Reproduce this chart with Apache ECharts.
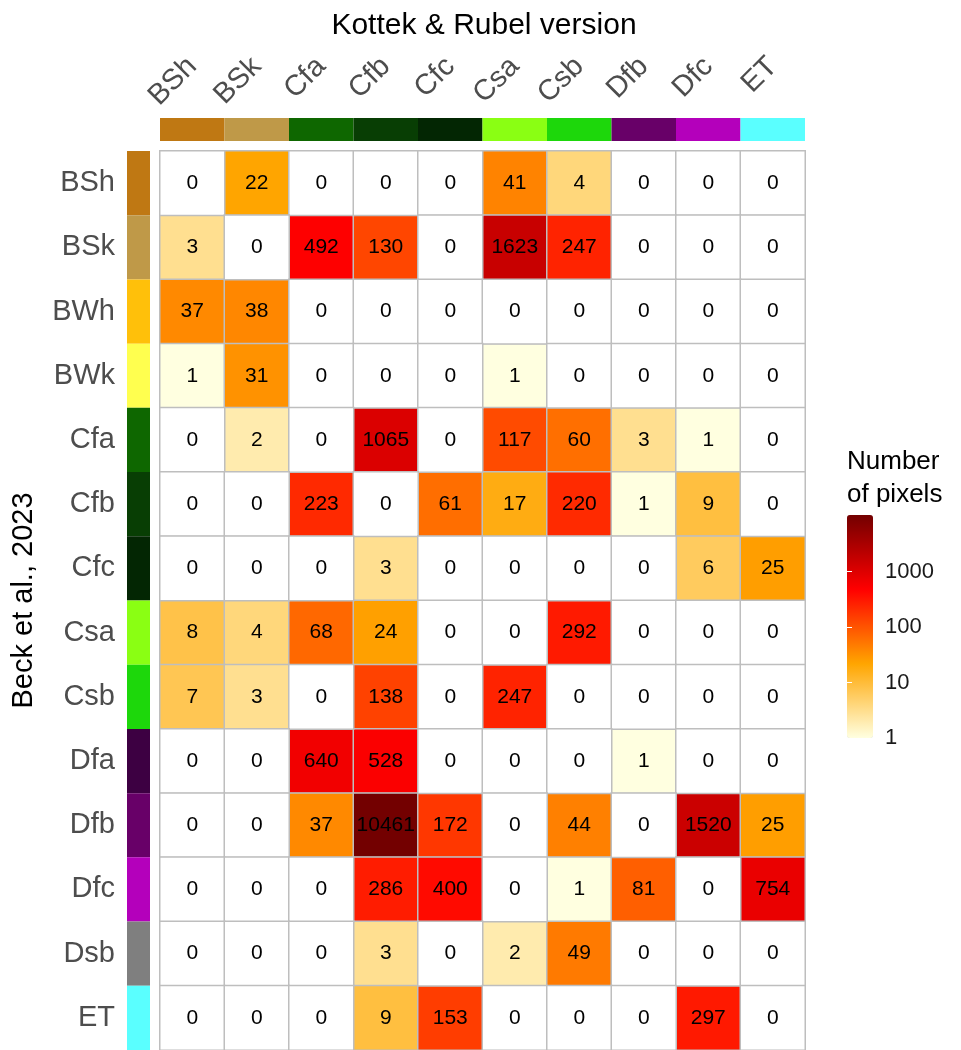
<!DOCTYPE html>
<html>
<head>
<meta charset="utf-8">
<script src="https://cdn.jsdelivr.net/npm/echarts@6/dist/echarts.min.js"></script>
<style>
  html, body { margin: 0; padding: 0; background: #fff; }
  #chart { width: 961px; height: 1050px; }
</style>
</head>
<body>
<div id="chart"></div>
<script>
// Kottek & Rubel classes (columns)
const colNames = ["BSh", "BSk", "Cfa", "Cfb", "Cfc", "Csa", "Csb", "Dfb", "Dfc", "ET"];
const colColors = ["#BF7813", "#BF9948", "#0E6700", "#083E04", "#032603",
                   "#8AFF13", "#1DD70B", "#680068", "#B400BB", "#5AFFFF"];

// Beck et al. classes (rows)
const rowNames = ["BSh", "BSk", "BWh", "BWk", "Cfa", "Cfb", "Cfc", "Csa", "Csb",
                  "Dfa", "Dfb", "Dfc", "Dsb", "ET"];
const rowColors = ["#BF7813", "#BF9948", "#FFC00A", "#FFFF4F", "#0E6700", "#083E04", "#032603",
                   "#8AFF13", "#1DD70B", "#3D0042", "#680068", "#B400BB", "#7F7F7F", "#5AFFFF"];

// pixel counts, one row per Beck class
const pixelCounts = [
  [0, 22, 0, 0, 0, 41, 4, 0, 0, 0],
  [3, 0, 492, 130, 0, 1623, 247, 0, 0, 0],
  [37, 38, 0, 0, 0, 0, 0, 0, 0, 0],
  [1, 31, 0, 0, 0, 1, 0, 0, 0, 0],
  [0, 2, 0, 1065, 0, 117, 60, 3, 1, 0],
  [0, 0, 223, 0, 61, 17, 220, 1, 9, 0],
  [0, 0, 0, 3, 0, 0, 0, 0, 6, 25],
  [8, 4, 68, 24, 0, 0, 292, 0, 0, 0],
  [7, 3, 0, 138, 0, 247, 0, 0, 0, 0],
  [0, 0, 640, 528, 0, 0, 0, 1, 0, 0],
  [0, 0, 37, 10461, 172, 0, 44, 0, 1520, 25],
  [0, 0, 0, 286, 400, 0, 1, 81, 0, 754],
  [0, 0, 0, 3, 0, 2, 49, 0, 0, 0],
  [0, 0, 0, 9, 153, 0, 0, 0, 297, 0]
];

const legendTicks = [1, 10, 100, 1000];
const paletteColors = ["#FFFFE0", "#FFA500", "#FF0000", "#730000"];

const chart = echarts.init(document.getElementById("chart"));

// non-zero cells go through the log colour scale, zero cells stay white
const heatData = [];
const zeroData = [];
let maxCount = 1;
pixelCounts.forEach((row, r) => {
  row.forEach((v, c) => {
    if (v > 0) heatData.push([c, r, Math.log10(v), v]);
    else zeroData.push([c, r, 0, v]);
    if (v > maxCount) maxCount = v;
  });
});
const logMax = Math.log10(maxCount);
const tickLogs = legendTicks.map(t => Math.log10(t));

const hidden = { show: false };
const greyLabel = { color: "#4D4D4D", fontSize: 29 };
const cellLabel = {
  show: true,
  fontSize: 21,
  color: "#000",
  formatter: p => String(p.value[3]),
};
const cellBorder = { borderColor: "#BEBEBE", borderWidth: 1.5 };

const option = {
  textStyle: { fontFamily: "Liberation Sans, Arial, sans-serif" },
  animation: false,
  title: [
    {
      text: "Kottek & Rubel version",
      left: 479,
      top: 6,
      textAlign: "center",
      textStyle: { fontSize: 30, fontWeight: "normal", color: "#000" },
    },
    {
      text: "Number\nof pixels",
      left: 842,
      top: 440,
      textStyle: { fontSize: 26, fontWeight: "normal", color: "#000", lineHeight: 33 },
    },
  ],
  grid: [
    { left: 160, top: 151, width: 645, height: 899 },
    { left: 160, top: 118, width: 645, height: 23 },
    { left: 127, top: 151, width: 23, height: 899 },
    { left: 847, top: 515, width: 26, height: 223 },
  ],
  xAxis: [
    { gridIndex: 0, type: "category", data: colNames, axisLabel: hidden, axisLine: hidden, axisTick: hidden },
    {
      gridIndex: 1, type: "category", data: colNames, position: "top",
      axisLine: hidden, axisTick: hidden,
      axisLabel: { ...greyLabel, rotate: 45, margin: 56, interval: 0, align: "right", verticalAlign: "middle" },
    },
    { gridIndex: 2, type: "value", min: 0, max: 1, show: false },
    { gridIndex: 3, type: "value", min: 0, max: 1, show: false },
  ],
  yAxis: [
    { gridIndex: 0, type: "category", data: rowNames, inverse: true, axisLabel: hidden, axisLine: hidden, axisTick: hidden },
    { gridIndex: 1, type: "value", min: 0, max: 1, show: false },
    {
      gridIndex: 2, type: "category", data: rowNames, inverse: true,
      axisLine: hidden, axisTick: hidden,
      axisLabel: { ...greyLabel, margin: 12, interval: 0 },
      name: "Beck et al., 2023",
      nameLocation: "middle",
      nameRotate: 90,
      nameGap: 89,
      nameTextStyle: { fontSize: 29, color: "#000" },
    },
    {
      gridIndex: 3, type: "value", min: 0, max: logMax, position: "right", z: 10,
      splitLine: hidden, axisLine: hidden,
      axisTick: { show: true, inside: true, length: 5, customValues: tickLogs.slice(1), lineStyle: { color: "#fff", width: 1 } },
      axisLabel: {
        customValues: tickLogs, margin: 12, fontSize: 22, color: "#1A1A1A",
        formatter: v => String(Math.round(Math.pow(10, v))),
      },
    },
    {
      gridIndex: 3, type: "value", min: 0, max: logMax, position: "left", z: 10,
      splitLine: hidden, axisLine: hidden, axisLabel: hidden,
      axisTick: { show: true, inside: true, length: 5, customValues: tickLogs.slice(1), lineStyle: { color: "#fff", width: 1 } },
    },
  ],
  visualMap: {
    type: "continuous",
    seriesIndex: 0,
    dimension: 2,
    min: 0,
    max: logMax,
    calculable: false,
    text: ["", ""],
    showLabel: false,
    left: 847,
    top: 515,
    padding: 0,
    itemWidth: 26,
    itemHeight: 223,
    inRange: { color: paletteColors },
  },
  series: [
    {
      type: "heatmap",
      xAxisIndex: 0,
      yAxisIndex: 0,
      data: heatData,
      itemStyle: cellBorder,
      label: cellLabel,
      emphasis: { disabled: true },
    },
    {
      type: "heatmap",
      xAxisIndex: 0,
      yAxisIndex: 0,
      data: zeroData,
      itemStyle: { ...cellBorder, color: "#FFFFFF" },
      label: cellLabel,
      emphasis: { disabled: true },
    },
    {
      type: "bar",
      xAxisIndex: 1,
      yAxisIndex: 1,
      barWidth: "100%",
      data: colColors.map(c => ({ value: 1, itemStyle: { color: c } })),
      silent: true,
    },
    {
      type: "bar",
      xAxisIndex: 2,
      yAxisIndex: 2,
      barWidth: "100%",
      data: rowColors.map(c => ({ value: 1, itemStyle: { color: c } })),
      silent: true,
    },
  ],
};

chart.setOption(option);
</script>
</body>
</html>
